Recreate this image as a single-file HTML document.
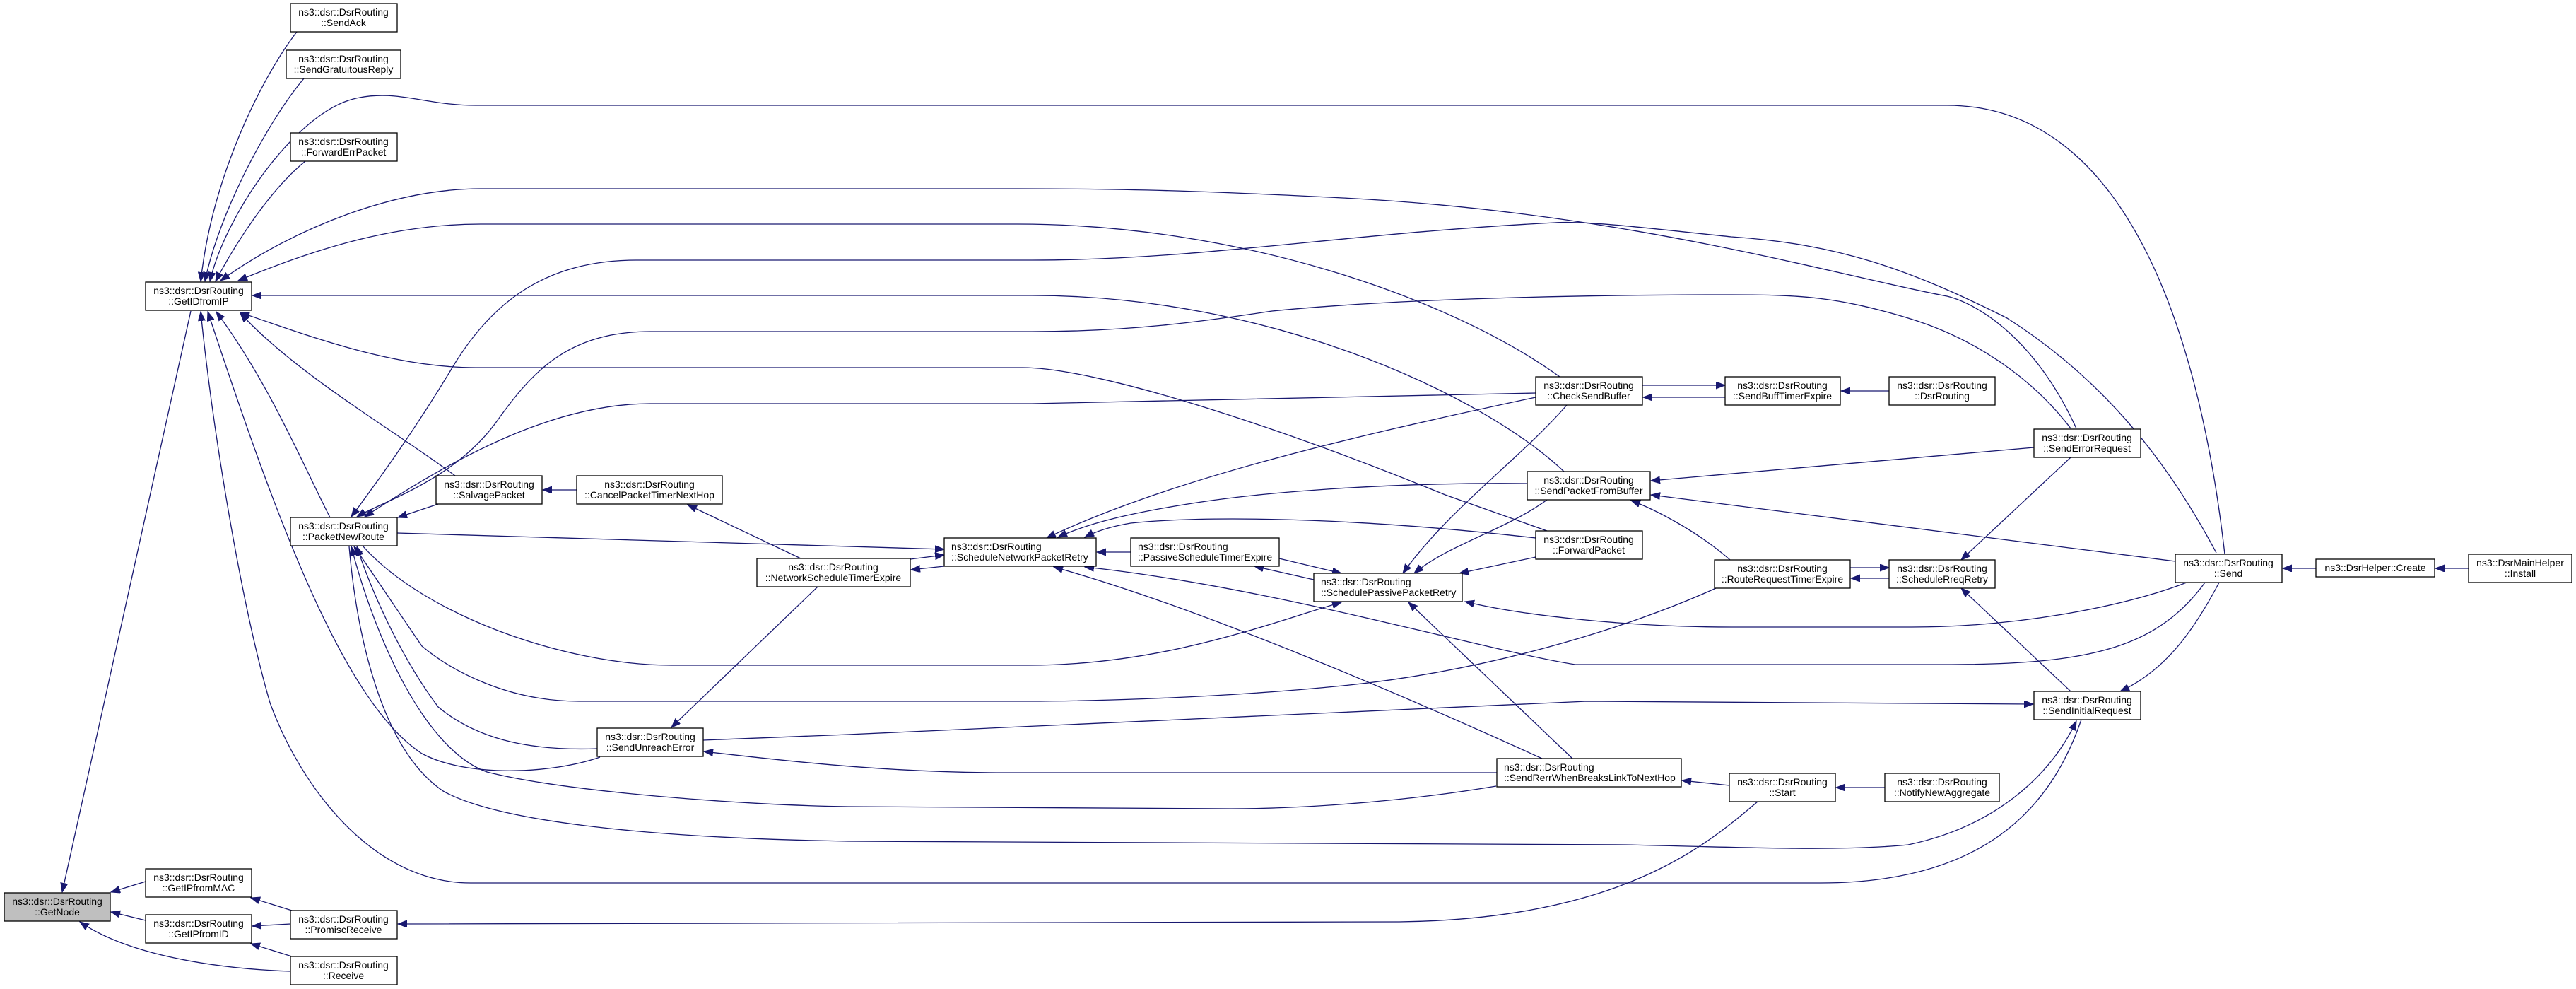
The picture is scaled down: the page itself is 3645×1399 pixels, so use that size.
<!DOCTYPE html>
<html><head><meta charset="utf-8"><style>
html,body{margin:0;padding:0;background:#fff;}
svg{display:block;}
text{font-family:"Liberation Sans",sans-serif;font-size:14px;fill:#000;}
.e{fill:none;stroke:#191970;stroke-width:1.3;marker-end:url(#a);}
.n{fill:#fff;stroke:#000;stroke-width:1.3;}
</style></head><body>
<svg width="3645" height="1399" viewBox="0 0 3645 1399" xmlns="http://www.w3.org/2000/svg">
<defs><marker id="a" markerUnits="userSpaceOnUse" markerWidth="14" markerHeight="12" refX="13" refY="5" orient="auto"><path d="M0,0 L13,5 L0,10 Z" fill="#191970" stroke="#191970"/></marker></defs>
<g>
<path class="e" d="M270,440 L88,1262"/>
<path class="e" d="M206,1247 L157,1262"/>
<path class="e" d="M206,1302 L157,1290"/>
<path class="e" d="M411,1374 C300,1370 180,1350 113,1304"/>
<path class="e" d="M413,1288 L355,1270"/>
<path class="e" d="M411,1307 L357,1310"/>
<path class="e" d="M413,1353 L355,1335"/>
<path class="e" d="M2487,1134 C2420,1190 2300,1300 1980,1304 L563,1307"/>
<path class="e" d="M420,45 C370,110 300,250 284,398"/>
<path class="e" d="M430,111 C380,170 310,300 290,398"/>
<path class="e" d="M3148,784 C3110,450 3000,149 2755,149 L673,149 C600,149 560,125 500,140 C420,160 320,300 297,398"/>
<path class="e" d="M432,228 C380,270 330,350 305,398"/>
<path class="e" d="M2938,606 C2880,480 2800,430 2755,419 C2600,390 2300,300 1900,280 C1700,270 1600,267 1440,267 L680,267 C560,267 420,320 312,397"/>
<path class="e" d="M2207,533 C2050,420 1750,317 1440,317 L680,317 C560,317 450,350 337,397"/>
<path class="e" d="M3136,782 C3050,620 2950,520 2840,450 C2700,380 2600,345 2450,335 C2350,325 2250,312 2200,315 C1900,330 1700,368 1460,368 L900,368 C780,368 700,420 640,520 C580,620 520,700 497,731"/>
<path class="e" d="M2213,667 C2100,560 1800,418 1460,418 L357,418"/>
<path class="e" d="M2930,606 C2880,540 2800,480 2700,450 C2600,420 2550,417 2450,417 C2300,417 2000,420 1800,440 C1700,455 1600,469 1460,469 L920,469 C800,469 750,530 700,600 C640,680 540,710 505,731"/>
<path class="e" d="M2189,751 L2045,700 C1800,600 1550,520 1447,520 L673,520 C560,520 450,480 340,442"/>
<path class="e" d="M2173,556 L1460,571 L920,571 C780,571 640,650 516,731"/>
<path class="e" d="M644,673 C560,610 420,530 340,443"/>
<path class="e" d="M816,693 L768,693"/>
<path class="e" d="M620,713 L563,732"/>
<path class="e" d="M467,732 C430,660 380,540 306,441"/>
<path class="e" d="M2945,1018 C2900,1150 2800,1249 2576,1249 L666,1249 C520,1249 420,1100 382,994 C340,850 300,600 284,441"/>
<path class="e" d="M849,1071 C780,1095 660,1100 597,1066 C480,990 380,700 294,441"/>
<path class="e" d="M562,754 L1336,777"/>
<path class="e" d="M1133,790 L973,714"/>
<path class="e" d="M1157,830 L950,1029"/>
<path class="e" d="M1600,781 L1552,781"/>
<path class="e" d="M1336,801 L1289,806"/>
<path class="e" d="M1288,791 L1336,785"/>
<path class="e" d="M2173,562 C1900,620 1650,680 1481,761"/>
<path class="e" d="M2161,684 C1950,682 1780,698 1700,710 C1600,725 1540,740 1497,760"/>
<path class="e" d="M2173,761 C1900,730 1700,730 1600,740 C1570,745 1550,752 1535,760"/>
<path class="e" d="M2182,1073 C2000,990 1700,860 1491,802"/>
<path class="e" d="M3120,824 C3050,920 2950,940 2750,940 L2229,940 C2100,920 1800,830 1535,802"/>
<path class="e" d="M2217,573 C2150,650 2050,720 1985,811"/>
<path class="e" d="M2189,707 C2130,750 2050,770 2001,811"/>
<path class="e" d="M2173,788 L2065,811"/>
<path class="e" d="M1810,790 L1898,811"/>
<path class="e" d="M1859,820 L1775,801"/>
<path class="e" d="M513,772 C600,870 800,941 950,941 L1455,941 C1650,941 1800,880 1898,852"/>
<path class="e" d="M2225,1073 L1993,852"/>
<path class="e" d="M3094,824 C3000,860 2850,887 2705,887 L2450,887 C2300,887 2150,870 2073,851"/>
<path class="e" d="M2324,545 L2441,545"/>
<path class="e" d="M2441,562 L2325,562"/>
<path class="e" d="M2673,553 L2605,553"/>
<path class="e" d="M2878,633 L2336,680"/>
<path class="e" d="M3078,794 L2336,700"/>
<path class="e" d="M2448,792 C2400,750 2340,720 2308,708"/>
<path class="e" d="M2930,647 L2775,792"/>
<path class="e" d="M2618,803 L2673,803"/>
<path class="e" d="M2673,818 L2619,818"/>
<path class="e" d="M2930,978 L2775,832"/>
<path class="e" d="M3140,824 C3100,900 3060,950 3000,978"/>
<path class="e" d="M3277,804 L3230,804"/>
<path class="e" d="M3493,804 L3446,804"/>
<path class="e" d="M2428,832 C2300,890 2100,950 1900,970 C1700,990 1500,992 1455,992 L819,992 C720,992 640,950 597,914 C560,860 520,800 501,773"/>
<path class="e" d="M2117,1112 C1950,1140 1800,1144 1742,1144 L1200,1141 C1050,1139 800,1120 689,1092 C600,1060 530,900 497,773"/>
<path class="e" d="M845,1059 C760,1062 680,1050 620,1000 C560,920 520,820 505,773"/>
<path class="e" d="M494,773 C505,900 540,1060 627,1119 C700,1160 900,1185 1200,1190 L2300,1195 C2450,1198 2600,1205 2700,1195 C2820,1170 2900,1100 2938,1020"/>
<path class="e" d="M995,1047 L1200,1039 L2245,992 L2877,996"/>
<path class="e" d="M2118,1093 L1423,1093 C1250,1093 1100,1075 996,1063"/>
<path class="e" d="M2447,1111 L2380,1104"/>
<path class="e" d="M2667,1114 L2598,1114"/>
</g>
<g text-anchor="middle">
<rect class="n" x="411" y="5" width="151" height="40"/><text x="486" y="22">ns3::dsr::DsrRouting</text><text x="486" y="37">::SendAck</text>
<rect class="n" x="405" y="71" width="162" height="40"/><text x="486" y="88">ns3::dsr::DsrRouting</text><text x="486" y="103">::SendGratuitousReply</text>
<rect class="n" x="411" y="188" width="151" height="40"/><text x="486" y="205">ns3::dsr::DsrRouting</text><text x="486" y="220">::ForwardErrPacket</text>
<rect class="n" x="206" y="399" width="150" height="40"/><text x="281" y="416">ns3::dsr::DsrRouting</text><text x="281" y="431">::GetIDfromIP</text>
<rect class="n" x="617" y="673" width="150" height="40"/><text x="692" y="690">ns3::dsr::DsrRouting</text><text x="692" y="705">::SalvagePacket</text>
<rect class="n" x="816" y="673" width="206" height="40"/><text x="919" y="690">ns3::dsr::DsrRouting</text><text x="919" y="705">::CancelPacketTimerNextHop</text>
<rect class="n" x="411" y="732" width="151" height="40"/><text x="486" y="749">ns3::dsr::DsrRouting</text><text x="486" y="764">::PacketNewRoute</text>
<rect class="n" x="1071" y="790" width="217" height="40"/><text x="1179" y="807">ns3::dsr::DsrRouting</text><text x="1179" y="822">::NetworkScheduleTimerExpire</text>
<rect class="n" x="2173" y="751" width="151" height="40"/><text x="2248" y="768">ns3::dsr::DsrRouting</text><text x="2248" y="783">::ForwardPacket</text>
<rect class="n" x="2173" y="533" width="151" height="40"/><text x="2248" y="550">ns3::dsr::DsrRouting</text><text x="2248" y="565">::CheckSendBuffer</text>
<rect class="n" x="2161" y="667" width="174" height="40"/><text x="2248" y="684">ns3::dsr::DsrRouting</text><text x="2248" y="699">::SendPacketFromBuffer</text>
<rect class="n" x="2441" y="533" width="163" height="40"/><text x="2522" y="550">ns3::dsr::DsrRouting</text><text x="2522" y="565">::SendBuffTimerExpire</text>
<rect class="n" x="2673" y="533" width="150" height="40"/><text x="2748" y="550">ns3::dsr::DsrRouting</text><text x="2748" y="565">::DsrRouting</text>
<rect class="n" x="2878" y="607" width="151" height="40"/><text x="2953" y="624">ns3::dsr::DsrRouting</text><text x="2953" y="639">::SendErrorRequest</text>
<rect class="n" x="2426" y="792" width="192" height="40"/><text x="2522" y="809">ns3::dsr::DsrRouting</text><text x="2522" y="824">::RouteRequestTimerExpire</text>
<rect class="n" x="2673" y="792" width="150" height="40"/><text x="2748" y="809">ns3::dsr::DsrRouting</text><text x="2748" y="824">::ScheduleRreqRetry</text>
<rect class="n" x="3078" y="784" width="151" height="40"/><text x="3153" y="801">ns3::dsr::DsrRouting</text><text x="3153" y="816">::Send</text>
<rect class="n" x="3277" y="791" width="168" height="25"/><text x="3361" y="808">ns3::DsrHelper::Create</text>
<rect class="n" x="3493" y="784" width="146" height="40"/><text x="3566" y="801">ns3::DsrMainHelper</text><text x="3566" y="816">::Install</text>
<rect class="n" x="2878" y="978" width="151" height="40"/><text x="2953" y="995">ns3::dsr::DsrRouting</text><text x="2953" y="1010">::SendInitialRequest</text>
<rect class="n" x="845" y="1030" width="150" height="40"/><text x="920" y="1047">ns3::dsr::DsrRouting</text><text x="920" y="1062">::SendUnreachError</text>
<rect class="n" x="2447" y="1094" width="150" height="40"/><text x="2522" y="1111">ns3::dsr::DsrRouting</text><text x="2522" y="1126">::Start</text>
<rect class="n" x="2667" y="1094" width="162" height="40"/><text x="2748" y="1111">ns3::dsr::DsrRouting</text><text x="2748" y="1126">::NotifyNewAggregate</text>
<rect class="n" x="206" y="1229" width="150" height="40"/><text x="281" y="1246">ns3::dsr::DsrRouting</text><text x="281" y="1261">::GetIPfromMAC</text>
<rect x="6" y="1263" width="150" height="40" fill="#bfbfbf" stroke="#000" stroke-width="1.3"/><text x="81" y="1280">ns3::dsr::DsrRouting</text><text x="81" y="1295">::GetNode</text>
<rect class="n" x="206" y="1294" width="150" height="40"/><text x="281" y="1311">ns3::dsr::DsrRouting</text><text x="281" y="1326">::GetIPfromID</text>
<rect class="n" x="411" y="1288" width="151" height="40"/><text x="486" y="1305">ns3::dsr::DsrRouting</text><text x="486" y="1320">::PromiscReceive</text>
<rect class="n" x="411" y="1353" width="151" height="40"/><text x="486" y="1370">ns3::dsr::DsrRouting</text><text x="486" y="1385">::Receive</text>
</g>
<g text-anchor="start">
<rect class="n" x="1336" y="761" width="215" height="40"/><text x="1346" y="778">ns3::dsr::DsrRouting</text><text x="1346" y="793">::ScheduleNetworkPacketRetry</text>
<rect class="n" x="1600" y="761" width="210" height="40"/><text x="1610" y="778">ns3::dsr::DsrRouting</text><text x="1610" y="793">::PassiveScheduleTimerExpire</text>
<rect class="n" x="1859" y="811" width="210" height="40"/><text x="1869" y="828">ns3::dsr::DsrRouting</text><text x="1869" y="843">::SchedulePassivePacketRetry</text>
<rect class="n" x="2118" y="1073" width="261" height="40"/><text x="2128" y="1090">ns3::dsr::DsrRouting</text><text x="2128" y="1105">::SendRerrWhenBreaksLinkToNextHop</text>
</g>
</svg>
</body></html>
